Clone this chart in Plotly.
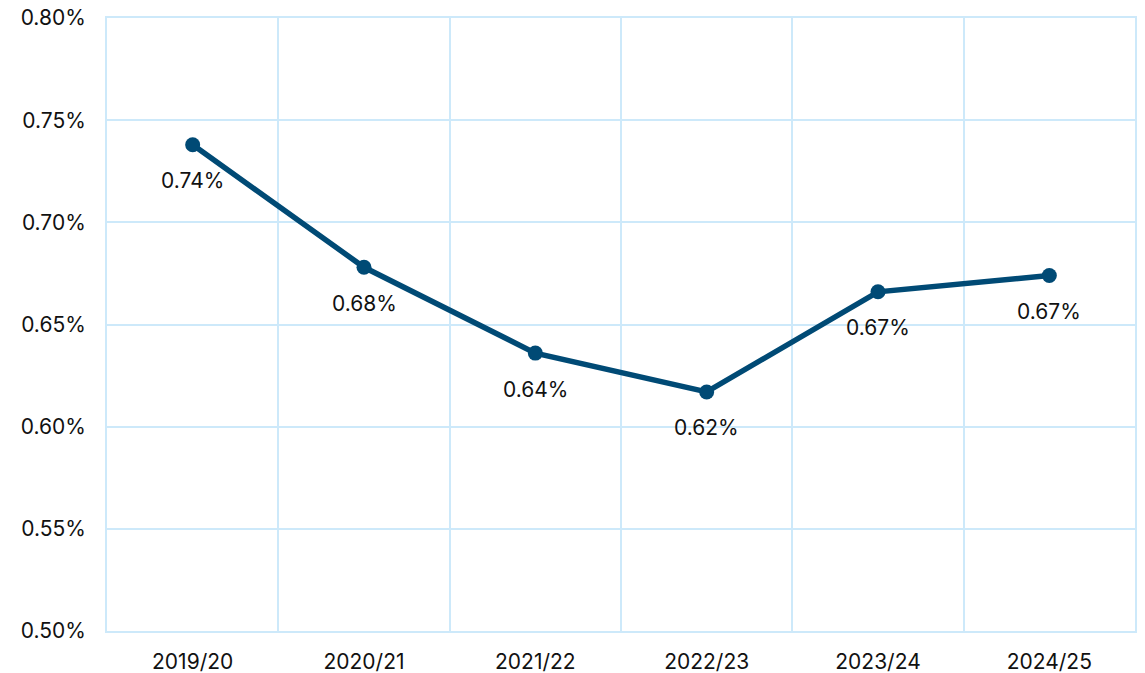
import plotly.graph_objects as go

years = ["2019/20", "2020/21", "2021/22", "2022/23", "2023/24", "2024/25"]
rates = [0.00738, 0.00678, 0.00636, 0.00617, 0.00666, 0.00674]
labels = ["0.74%", "0.68%", "0.64%", "0.62%", "0.67%", "0.67%"]

line_color = "#004A75"
grid_color = "#CDE9FA"
text_color = "#111111"
font_family = "Inter, Roboto, Arial, sans-serif"
font_size = 21

fig = go.Figure(
    go.Scatter(
        x=years,
        y=rates,
        mode="lines+markers",
        line=dict(color=line_color, width=5.5),
        marker=dict(color=line_color, size=15),
        hoverinfo="skip",
    )
)

for yr, val, lab in zip(years, rates, labels):
    fig.add_annotation(
        x=yr, y=val, text=lab, showarrow=False,
        yshift=-36, font=dict(size=font_size, color=text_color, family=font_family),
    )

fig.update_layout(
    width=1145,
    height=673,
    margin=dict(l=107, r=10, t=18, b=42, autoexpand=False),
    plot_bgcolor="white",
    paper_bgcolor="white",
    showlegend=False,
    font=dict(family=font_family, size=font_size, color=text_color),
)
fig.update_xaxes(
    type="category",
    range=[-0.5, len(years) - 0.5],
    tickson="boundaries",
    showgrid=True,
    gridcolor=grid_color,
    gridwidth=2,
    showline=True,
    linecolor=grid_color,
    linewidth=2,
    mirror=True,
    ticks="",
    ticklabelstandoff=11,
    automargin=False,
    tickfont=dict(size=font_size),
)
fig.update_yaxes(
    range=[0.005, 0.008],
    dtick=0.0005,
    tickformat=".2%",
    showgrid=True,
    gridcolor=grid_color,
    gridwidth=2,
    showline=True,
    linecolor=grid_color,
    linewidth=2,
    mirror=True,
    zeroline=False,
    ticks="",
    ticklabelstandoff=15,
    automargin=False,
    tickfont=dict(size=font_size),
)

fig.write_html(
    "out.html",
    config={"displayModeBar": False},
    post_script="document.body.style.margin='0';document.body.style.overflow='hidden';",
)
